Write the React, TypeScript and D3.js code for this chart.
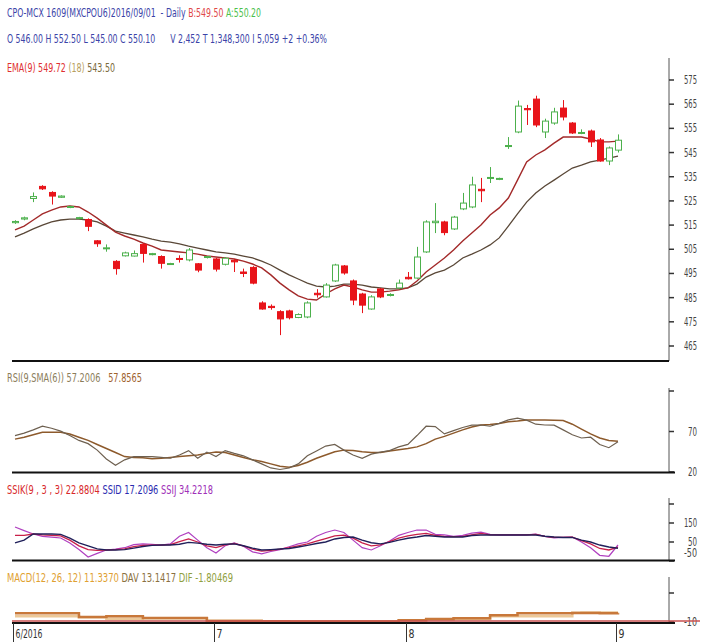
import React, { useEffect } from "react";
import * as d3 from "d3";

// daily OHLC, CPO-MCX 1609, Jun 1 - Sep 1 2016
const opens = [516, 517.5, 526, 531, 528.5, 526.5, 522.3, 517.7, 517.3, 508.5, 505.2, 500, 502.3, 502.2, 507, 502.8, 502, 498.7, 501.2, 500.6, 499, 501.6, 501, 498.8, 500.4, 495.6, 497.5, 482.8, 481.4, 479.2, 479.5, 476.8, 477, 486.8, 485.3, 491.9, 498.1, 491.9, 486.5, 480.3, 488.6, 485.9, 489, 493.4, 493.1, 503.9, 516, 516.3, 513.4, 521.7, 522.5, 529.8, 534.3, 533.9, 547.5, 553.5, 563.2, 567.1, 553.5, 557.2, 563.4, 557.2, 553, 553.9, 550.2, 541.5, 546];
const highs = [517, 518.5, 528.5, 531.5, 529, 527.3, 523, 518.4, 517.8, 508.8, 507, 500.5, 504, 504.5, 507.5, 503.5, 502.5, 499.4, 502.5, 505.5, 499.3, 502.3, 501.5, 501.8, 501, 497, 498, 483.5, 482.2, 479.8, 480, 478.5, 483.5, 488.5, 491, 499, 498.5, 492.5, 487, 486, 489, 486.8, 492.5, 495.6, 506, 517, 524.1, 516.8, 518.8, 528.3, 535, 534.5, 539, 534.6, 551.4, 566.5, 564.7, 568.5, 559, 563.5, 566.7, 557.6, 554.6, 554.5, 551, 547.5, 552.5];
const lows = [515.5, 517, 524.5, 529.5, 523.5, 526.2, 522, 517.5, 512.5, 506, 504, 494.5, 502, 502, 499.5, 502.5, 497, 498.5, 499.5, 500, 495.5, 501.2, 495.8, 498.3, 495.6, 493.5, 490.5, 480, 480, 469.5, 476, 476.5, 476.5, 485, 485, 491.5, 494.5, 481.9, 478.6, 480, 484.8, 485.5, 488.5, 492.5, 492.8, 503.5, 511.7, 510.8, 513, 521.2, 522, 524.5, 532.4, 533.6, 546.5, 553, 556.4, 555.5, 551, 556.5, 558.3, 552.7, 552.6, 547.3, 541.2, 539.8, 545];
const closes = [516.5, 518, 526.8, 530, 527, 527, 522.7, 518.1, 514.5, 507.3, 505.6, 497, 503.5, 503.2, 503.3, 503.2, 499.2, 499.1, 500.8, 504.7, 496.4, 502, 496.8, 501.3, 499.8, 495, 491, 480.3, 480.9, 476.2, 476.7, 478, 482.8, 486.2, 490.2, 498.5, 495.2, 484, 481.9, 485.3, 485.3, 486.3, 491, 492.8, 501.8, 516.3, 516.6, 511.9, 518.3, 524.1, 531.6, 529.2, 534.7, 534.3, 547.9, 564.2, 562.7, 556.4, 558, 561.8, 559.7, 553.1, 553.3, 549.4, 541.5, 546.9, 550.1];

const ema9 = [513, 514.6, 517.1, 519.6, 521.2, 522.5, 522.9, 522.5, 520.4, 517.9, 515, 512.1, 510.5, 509.2, 507.6, 506.3, 504.7, 504.3, 503.9, 503.5, 503, 502.2, 501.8, 501.4, 501, 500.1, 498.9, 497.3, 494.4, 491, 488.2, 485.7, 484.4, 484, 486.5, 488.6, 490.2, 489.4, 488.2, 487.3, 487.3, 487.7, 488.2, 489, 491.9, 495.6, 498.5, 501.4, 504.7, 508.4, 511.7, 515, 519.2, 522.1, 526.2, 533.6, 541.1, 544, 546.1, 548.9, 551.4, 551.4, 551.4, 550.6, 549.4, 549.4, 549.72];
const ema18 = [510.1, 511.7, 513.4, 515, 516.3, 517.1, 517.5, 517.5, 517.1, 516.3, 514.6, 512.5, 511.7, 510.9, 510.1, 509.2, 508.4, 508, 507.2, 506.3, 505.5, 504.7, 503.9, 503.5, 503, 502.2, 501.4, 500.1, 498.5, 496.4, 494.4, 492.7, 491, 489.8, 489.4, 489.8, 490.6, 490.6, 490.2, 489.4, 489, 488.6, 488.6, 489, 490.6, 493.5, 495.2, 496.4, 498.5, 501.4, 503, 504.7, 506.8, 509.7, 514.6, 519.6, 524.5, 528.3, 531.2, 533.6, 536.1, 538.6, 539.8, 541.1, 541.9, 542.7, 543.5];

const rsiVals = [64.9, 68, 72, 76.5, 74, 70.5, 65, 59, 55, 47, 36, 28.3, 35, 39, 39, 39, 38, 37, 41, 46.4, 37, 44.6, 39, 46.4, 43, 40, 35, 30, 25, 23.1, 24.9, 30, 40, 46, 52, 54, 47, 41, 36.9, 42, 44.6, 46.4, 51, 54.1, 65, 76.5, 76, 67, 71, 75, 77.9, 78, 76.5, 80, 84.3, 86.5, 84, 79, 78, 77.9, 72, 66, 62, 63, 54, 50, 57.2];
const rsiSma = [60.6, 63, 66, 69, 69.2, 69.2, 67, 63, 59, 54, 49, 44, 39, 38, 37.5, 36.5, 37, 38, 39, 40, 41, 43, 44.6, 44, 41, 38, 35, 33, 30, 27, 26, 28, 32, 37, 41, 45, 47, 46.4, 45, 44, 44, 46, 47.5, 49, 51, 55, 60.6, 64, 68, 72, 75.5, 77.9, 78.5, 80, 82, 83, 84.3, 84.3, 84.3, 84, 83.5, 79, 73, 67, 62, 59, 57.9];

const ssik = [85, 85, 92, 87, 85, 82, 60, 30, 10, 6, 8, 10, 14, 26, 32, 34, 34, 36, 52, 66, 50, 30, 20, 35, 42, 30, 12, 2, 6, 12, 20, 30, 40, 55, 68, 82, 86, 70, 45, 30, 35, 52, 70, 82, 90, 95, 85, 80, 78, 80, 88, 95, 88, 87, 87, 87, 87, 90, 80, 74, 74, 75, 57, 40, 16, 8, 22.9];
const ssid = [45, 60, 92, 92, 92, 90, 70, 45, 30, 14, 8, 8, 10, 18, 26, 32, 34, 34, 38, 48, 44, 38, 34, 38, 40, 30, 18, 8, 10, 13, 16, 24, 32, 42, 50, 66, 74, 76, 60, 46, 40, 48, 60, 70, 76, 84, 80, 76, 76, 76, 84, 87, 87, 87, 87, 87, 87, 87, 80, 76, 74, 74, 60, 50, 34, 24, 17.2];
const ssij = [129, 110, 92, 80, 76, 71, 45, 10, -29, -10, 8, 13, 20, 36, 40, 38, 34, 40, 80, 100, 60, 20, -8, 30, 45, 28, -2, -12, 0, 10, 25, 40, 50, 80, 100, 113, 100, 60, 20, 8, 30, 55, 85, 100, 113, 113, 90, 87, 80, 85, 97, 102, 90, 87, 87, 87, 87, 92, 80, 72, 74, 76, 50, 20, -20, -25, 34.2];

const macdVals = [11, 11, 11, 11, 11, 11, 11, 2, 2, 2, 4, 4, 4, 4, -0.5, -0.5, -0.5, -0.5, -0.5, -0.5, -0.5, -7.5, -7.5, -7.5, -7.5, -7.5, -7.5, -8, -8, -8, -9, -9, -9, -9, -9, -9, -9, -9, -9, -9, -9, -9, -5.5, -5.5, -5.5, -3, -3, -3, -1, -1, -1, -1, 6, 6, 6, 11, 11, 11, 11, 11, 11, 11.5, 11.5, 11.5, 11.3, 11.3, 11.34];
const davVals = [4, 4, 4, 4, 4, 4, 4, 1.7, 1.7, 1.7, -2, -2, -2, -2, -1, -1, -1, -1, -1, -1, -1, -7, -7, -7, -7, -7, -7, -8.5, -8.5, -8.5, -9, -9, -9, -9, -9, -9, -9, -9, -9, -9, -9, -9, -6, -6, -6, -4, -4, -4, -3, -3, -3, -3, 4, 4, 4, 4, 4, 4, 4, 4, 4, 12.5, 13, 13, 13.1, 13.1, 13.14];

const priceTicks = [575, 565, 555, 545, 535, 525, 515, 505, 495, 485, 475, 465];
const rsiTicks = [20, 70, 120];
const rsiTickLabels = ["20", "70", ""];
const ssiTicks = [-50, 50, 150, 250];
const ssiTickLabels = ["-50", "50", "150", ""];
const macdTicks = [-10, 60];
const macdTickLabels = ["-10", ""];
const monthIdx = [0, 22, 43, 66];
const monthLabels = ["6/2016", "7", "8", "9"];

const FONT = "'Liberation Sans Narrow','Arial Narrow','DejaVu Sans Condensed',sans-serif";
const AX = 669;

// one line of text, several coloured parts, squeezed to a fixed width
function Row({ x, y, w, parts, size = 12, anchor = "start" }: any) {
  return (
    <text x={x} y={y} fontSize={size} fontFamily={FONT} textLength={w} textAnchor={anchor}
      lengthAdjust="spacingAndGlyphs" dominantBaseline="middle" xmlSpace="preserve"
      style={{ whiteSpace: "pre" }}>
      {parts.map(([s, c]: [string, string], k: number) => (
        <tspan key={k} fill={c}>{s}</tspan>
      ))}
    </text>
  );
}

export default function App() {
  useEffect(() => {
    document.body.style.margin = "0";
  }, []);

  const n = opens.length;
  const idx = d3.range(n);
  const x = d3.scaleLinear().domain([0, n - 1]).range([15, 618]);
  const yP = d3.scaleLinear().domain([465, 575]).range([346, 80]);
  const yR = d3.scaleLinear().domain([20, 120]).range([472, 391]);
  const yS = d3.scaleLinear().domain([-50, 250]).range([561, 504]);
  const yM = d3.scaleLinear().domain([-10, 60]).range([622, 593]);

  const mk = (ys: d3.ScaleLinear<number, number>, curve: d3.CurveFactory = d3.curveLinear) =>
    d3.line<number>().x((_, i) => x(i)).y((v) => ys(v)).curve(curve);

  const lineP = mk(yP);
  const lineR = mk(yR);
  const lineS = mk(yS);
  const lineM = mk(yM, d3.curveStepAfter);

  const axisTicks = (ys: any, ticks: number[], labels: string[], shiftFirst = false) =>
    ticks.map((t, k) => (
      <g key={k}>
        <line x1={AX} x2={AX + 5} y1={ys(t)} y2={ys(t)} stroke="#333" strokeWidth={1.5} />
        {labels[k] && (
          <Row x={697} anchor="end" y={ys(t) + (k === 0 && shiftFirst ? -8 : 0)}
            w={labels[k].length === 3 ? 13 : 9} size={12} parts={[[labels[k], "#444"]]} />
        )}
      </g>
    ));

  return (
    <svg width={703} height={644} style={{ display: "block", position: "absolute", left: 0, top: 0, background: "#fff" }}>
      {/* header */}
      <Row x={7} y={13} w={254} parts={[
        ["CPO-MCX 1609(MXCPOU6)2016/09/01  - Daily ", "#3b44a8"],
        ["B:549.50 ", "#e04848"],
        ["A:550.20", "#4cbf4c"],
      ]} />
      <Row x={7} y={39} w={320} parts={[
        ["O 546.00 H 552.50 L 545.00 C 550.10      V 2,452 T 1,348,300 I 5,059 +2 +0.36%", "#3b44a8"],
      ]} />
      <Row x={7} y={68} w={108} parts={[
        ["EMA(9) 549.72 ", "#e03030"],
        ["(18) ", "#b8a060"],
        ["543.50", "#7a6a3a"],
      ]} />

      {/* price panel */}
      <line x1={AX} x2={AX} y1={58} y2={361} stroke="#555" />
      {axisTicks(yP, priceTicks, priceTicks.map(String))}
      <path d={lineP(ema18) ?? ""} fill="none" stroke="#5a4838" strokeWidth={1.3} />
      <path d={lineP(ema9) ?? ""} fill="none" stroke="#a32a2a" strokeWidth={1.4} />
      {idx.map((i) => {
        const up = closes[i] >= opens[i];
        const col = up ? "#4cb04c" : "#e8141a";
        const cx = Math.round(x(i)) + 0.5;
        const top = yP(Math.max(opens[i], closes[i]));
        const bot = yP(Math.min(opens[i], closes[i]));
        const h = Math.max(1, bot - top);
        return (
          <g key={i}>
            <line x1={cx} x2={cx} y1={yP(highs[i])} y2={yP(lows[i])} stroke={col} />
            <rect x={cx - 3} y={top} width={6} height={h} fill={up ? "#fff" : col} stroke={col} strokeWidth={1} />
          </g>
        );
      })}
      <line x1={12} x2={AX} y1={361} y2={361} stroke="#111" strokeWidth={2} />

      {/* RSI */}
      <Row x={7} y={378} w={135} parts={[
        ["RSI(9,SMA(6)) 57.2006   ", "#8b7d5a"],
        ["57.8565", "#a0622e"],
      ]} />
      <line x1={AX} x2={AX} y1={388} y2={472} stroke="#555" />
      {axisTicks(yR, rsiTicks, rsiTickLabels)}
      <path d={lineR(rsiSma) ?? ""} fill="none" stroke="#8d5a2c" strokeWidth={1.5} />
      <path d={lineR(rsiVals) ?? ""} fill="none" stroke="#6e6050" strokeWidth={1.2} />
      <line x1={12} x2={675} y1={472.5} y2={472.5} stroke="#111" strokeWidth={2} />

      {/* SSI stochastic */}
      <Row x={7} y={490} w={206} parts={[
        ["SSIK(9 , 3 , 3) 22.8804 ", "#d8282a"],
        ["SSID 17.2096 ", "#2a2ab0"],
        ["SSIJ 34.2218", "#a030b8"],
      ]} />
      <line x1={AX} x2={AX} y1={498} y2={560} stroke="#555" />
      {axisTicks(yS, ssiTicks, ssiTickLabels, true)}
      <path d={lineS(ssij) ?? ""} fill="none" stroke="#b040c0" strokeWidth={1.2} />
      <path d={lineS(ssik) ?? ""} fill="none" stroke="#c8204a" strokeWidth={1.3} />
      <path d={lineS(ssid) ?? ""} fill="none" stroke="#20205a" strokeWidth={1.4} />
      <line x1={12} x2={675} y1={560.5} y2={560.5} stroke="#111" strokeWidth={2} />

      {/* MACD */}
      <Row x={7} y={578} w={226} parts={[
        ["MACD(12, 26, 12) 11.3370 ", "#e0a030"],
        ["DAV 13.1417 ", "#8a7040"],
        ["DIF -1.80469", "#90a040"],
      ]} />
      <line x1={AX} x2={AX} y1={577} y2={623} stroke="#555" />
      {axisTicks(yM, macdTicks, macdTickLabels)}
      <path d={lineM(davVals) ?? ""} fill="none" stroke="#ecc898" strokeWidth={2.5} />
      <path d={lineM(macdVals) ?? ""} fill="none" stroke="#c8783a" strokeWidth={2.5} />
      <line x1={12} x2={700} y1={621} y2={621} stroke="#c85050" strokeWidth={1.5} />
      <line x1={12} x2={675} y1={623} y2={623} stroke="#111" strokeWidth={2} />

      {/* dates */}
      {monthIdx.map((m, k) => {
        const tx = Math.round(x(m)) - 1.5;
        return (
          <g key={k}>
            <line x1={tx} x2={tx} y1={623} y2={642} stroke="#333" />
            <Row x={tx + 2} y={634} w={monthLabels[k].length > 1 ? 27 : 6} size={12}
              parts={[[monthLabels[k], "#333"]]} />
          </g>
        );
      })}
    </svg>
  );
}
